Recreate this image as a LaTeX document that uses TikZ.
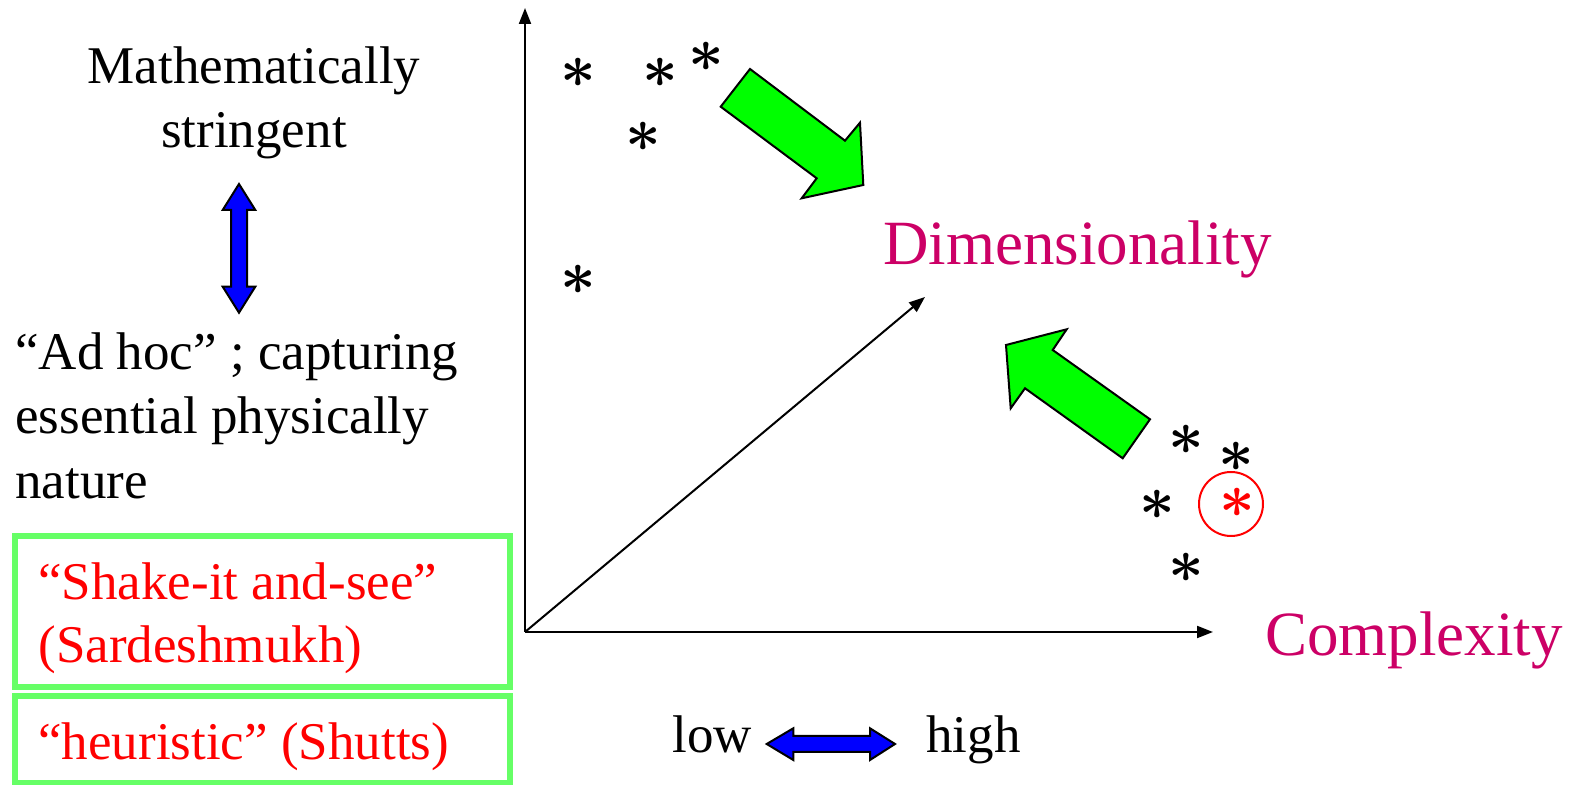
\RequirePackage{fix-cm}
\documentclass[tikz,border=0pt]{standalone}
\usepackage{fontspec}
\setmainfont{Liberation Serif}
\usetikzlibrary{arrows.meta}
\definecolor{magtext}{RGB}{204,0,102}
\definecolor{boxgreen}{RGB}{102,255,102}
\definecolor{arrgreen}{RGB}{0,255,0}
\definecolor{arrblue}{RGB}{0,0,255}
\begin{document}
\begin{tikzpicture}[x=0.5pt,y=-0.5pt,
  txt/.style={inner sep=0pt,font=\fontsize{26.5}{32}\selectfont},
  bigtxt/.style={inner sep=0pt,font=\fontsize{31.5}{36}\selectfont,text=magtext},
  redtxt/.style={txt,text=red},
  star/.style={inner sep=0pt,font=\fontsize{31}{31}\selectfont\boldmath},
  axis/.style={line width=1pt,-{Triangle[length=8pt,width=6pt]}},
  greenbox/.style={draw=boxgreen,line width=3pt},
  greenarrow/.style={draw=black,line width=1pt,fill=arrgreen,line join=miter},
  bluearrow/.style={draw=black,line width=1pt,fill=arrblue,line join=miter}]
\useasboundingbox (0,0) rectangle (1571,785);

% left texts
\node[txt,anchor=base] (m1) at (254,84) {Mathematically};
\node[txt,anchor=base] (m2) at (254,148) {stringent};
\node[txt,anchor=base west] (a1) at (15,370) {“Ad hoc” ; capturing};
\node[txt,anchor=base west] (a2) at (15,434) {essential physically};
\node[txt,anchor=base west] (a3) at (15,499) {nature};

% boxes
\draw[greenbox] (15,536) rectangle (510,687);
\draw[greenbox] (15,696) rectangle (510,783);
\node[redtxt,anchor=base west] (r1) at (38,600) {“Shake-it and-see”};
\node[redtxt,anchor=base west] (r2) at (38,663) {(Sardeshmukh)};
\node[redtxt,anchor=base west] (r3) at (38,760) {“heuristic” (Shutts)};

% blue vertical double arrow
\draw[bluearrow] (239,184) -- (255.3,210) -- (247,210) -- (247,286.7) -- (255.3,286.7)
  -- (239,312.7) -- (222.7,286.7) -- (231,286.7) -- (231,210) -- (222.7,210) -- cycle;

% axes
\coordinate (O) at (525,632);
\coordinate (Y) at (525,8);
\coordinate (X) at (1213,632);
\coordinate (D) at (925,297);
\draw[axis] (O) -- (Y);
\draw[axis] (O) -- (X);
\draw[axis] (O) -- (D);

\node[bigtxt,anchor=base west] (dim) at (883,265) {Dimensionality};
\node[bigtxt,anchor=base west] (cpx) at (1265,656) {Complexity};

% low - high
\node[txt,anchor=base west] (low) at (672,753) {low};
\node[txt,anchor=base west] (high) at (926,753) {high};
\draw[bluearrow] (766.7,744) -- (793.3,728.3) -- (793.3,736) -- (870,736) -- (870,728.3)
  -- (895,744) -- (870,760) -- (870,752) -- (793.3,752) -- (793.3,760) -- cycle;

% green arrows
\draw[greenarrow] (720.7,106.7) -- (750,69) -- (845,140.7) -- (860,122.7) -- (863.3,185)
  -- (801.7,198.3) -- (816.7,178.3) -- cycle;
\draw[greenarrow] (1006,345) -- (1066.7,329.3) -- (1052.7,350) -- (1150,419.3)
  -- (1122.7,458.3) -- (1025,388.3) -- (1010.7,408.3) -- cycle;

% asterisks
\node[star] (s1) at (578,73) {$\ast$};
\node[star] (s2) at (660,73) {$\ast$};
\node[star] (s3) at (706,57) {$\ast$};
\node[star] (s4) at (643,137) {$\ast$};
\node[star] (s5) at (578,280) {$\ast$};
\node[star] (s6) at (1186,440) {$\ast$};
\node[star] (s7) at (1236,457) {$\ast$};
\node[star] (s8) at (1157,505) {$\ast$};
\node[star] (s9) at (1186,568) {$\ast$};
\node[star,text=red] (s10) at (1237,503) {$\ast$};
\draw[red,line width=1pt] (1231,504) circle [radius=32];
\end{tikzpicture}
\end{document}
